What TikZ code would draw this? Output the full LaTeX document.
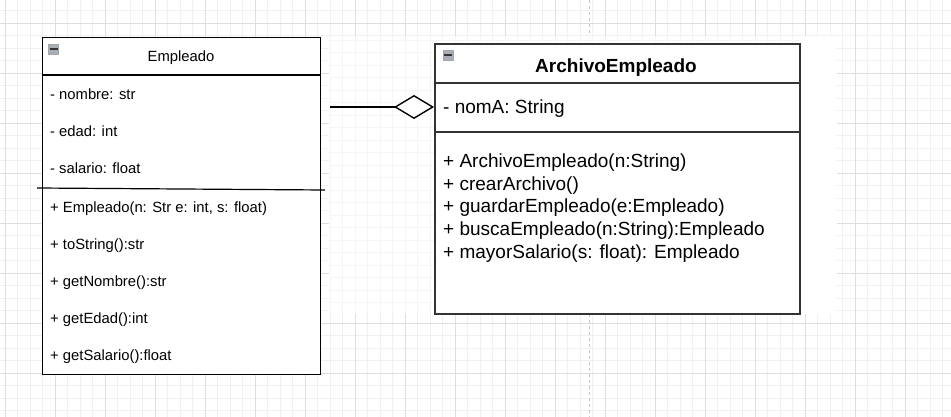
\documentclass[tikz,border=0pt]{standalone}
\usepackage{fontspec}
\setmainfont{Liberation Sans}
\usetikzlibrary{arrows.meta}
\definecolor{gridminor}{HTML}{F0F0F0}
\definecolor{gridmajor}{HTML}{DEDEDE}
\definecolor{gridfaint}{HTML}{F5F5F5}
\definecolor{boxline}{HTML}{333333}
\definecolor{icongray}{HTML}{A8AEB8}
\tikzset{
  umlbox/.style={draw=#1, fill=white, line width=1.3pt, anchor=north west, inner sep=0pt},
  lefttxt/.style={anchor=base west, inner sep=0pt, font=\fontsize{14.8}{17}\selectfont},
  righttxt/.style={anchor=base west, inner sep=0pt, font=\fontsize{19}{22}\selectfont},
  iconbox/.style={draw=gray!70, fill=icongray, minimum width=10pt, minimum height=10pt, inner sep=0pt, line width=0.5pt},
}
\begin{document}
\begin{tikzpicture}[x=1pt,y=-1pt]
\useasboundingbox (0,0) rectangle (951,417);
\fill[white] (0,0) rectangle (951,417);
% main grid
\foreach \i in {0,...,76} {
  \draw[gridminor, line width=0.6pt] ({5+12.5*\i-12.5},0) -- ({5+12.5*\i-12.5},417);
}
\foreach \j in {0,...,34} {
  \draw[gridminor, line width=0.6pt] (0,{23+12.5*\j-25}) -- (951,{23+12.5*\j-25});
}
\foreach \i in {0,...,19} {
  \draw[gridmajor, line width=0.7pt] ({5+50*\i},0) -- ({5+50*\i},417);
}
\foreach \j in {0,...,8} {
  \draw[gridmajor, line width=0.7pt] (0,{23+50*\j}) -- (951,{23+50*\j});
}
% pasted region
\fill[white] (329,36) rectangle (837,314);
\begin{scope}
\clip (329,36) rectangle (800,314);
\foreach \i in {0,...,40} {
  \draw[gridfaint, line width=0.6pt] ({330+12.5*\i},36) -- ({330+12.5*\i},314);
}
\foreach \j in {0,...,23} {
  \draw[gridfaint, line width=0.6pt] (329,{40+12.5*\j}) -- (800,{40+12.5*\j});
}
\end{scope}
% page break line
\draw[black!22, dashed, line width=0.8pt] (589,0) -- (589,36);
\draw[black!22, dashed, line width=0.8pt] (589,314) -- (589,417);

% Empleado class
\node[umlbox=black, minimum width=278pt, minimum height=337pt] (emp) at (42,37) {};
\draw[black, line width=1.2pt] (42,75) -- (320,75);
\draw[black, line width=1.2pt] (37,188) -- (325,190);
\node[iconbox] (empicon) at (53.5,49) {};
\draw[black!80, line width=1.2pt] (49.5,49) -- (57.5,49);
\node[anchor=base, inner sep=0pt, font=\fontsize{14.8}{17}\selectfont] (empt) at (181,62) {Empleado};
\node[lefttxt] (a1) at (50,99.3) {- nombre: str};
\node[lefttxt] (a2) at (50,136.3) {- edad: int};
\node[lefttxt] (a3) at (50,173.3) {- salario: float};
\node[lefttxt] (m1) at (50,212.3) {+ Empleado(n: Str e: int, s: float)};
\node[lefttxt] (m2) at (50,249.3) {+ toString():str};
\node[lefttxt] (m3) at (50,286.3) {+ getNombre():str};
\node[lefttxt] (m4) at (50,323.3) {+ getEdad():int};
\node[lefttxt] (m5) at (50,360.3) {+ getSalario():float};

% ArchivoEmpleado class
\node[umlbox=boxline, line width=2pt, minimum width=365pt, minimum height=270pt] (arch) at (434,43) {};
\draw[boxline, line width=1.6pt] (434,83) -- (799,83);
\draw[boxline, line width=1.6pt] (434,132) -- (799,132);
\node[iconbox] (archicon) at (448,55) {};
\draw[black!80, line width=1.2pt] (444,55) -- (452,55);
\node[anchor=base, inner sep=0pt, font=\fontsize{19}{22}\selectfont\bfseries] (archt) at (616,72.3) {ArchivoEmpleado};
\node[righttxt] (b1) at (443,113.3) {- nomA: String};
\node[righttxt] (c1) at (443,167.3) {+ ArchivoEmpleado(n:String)};
\node[righttxt] (c2) at (443,190.1) {+ crearArchivo()};
\node[righttxt] (c3) at (443,212.9) {+ guardarEmpleado(e:Empleado)};
\node[righttxt] (c4) at (443,235.7) {+ buscaEmpleado(n:String):Empleado};
\node[righttxt] (c5) at (443,258.5) {+ mayorSalario(s: float): Empleado};

% aggregation connector
\coordinate (aggstart) at (330,107);
\coordinate (aggend) at (434,107);
\draw[black, line width=1.6pt, -{Diamond[open, length=40pt, width=24pt, line width=1.4pt, fill=white]}] (aggstart) -- (aggend);
\end{tikzpicture}
\end{document}
